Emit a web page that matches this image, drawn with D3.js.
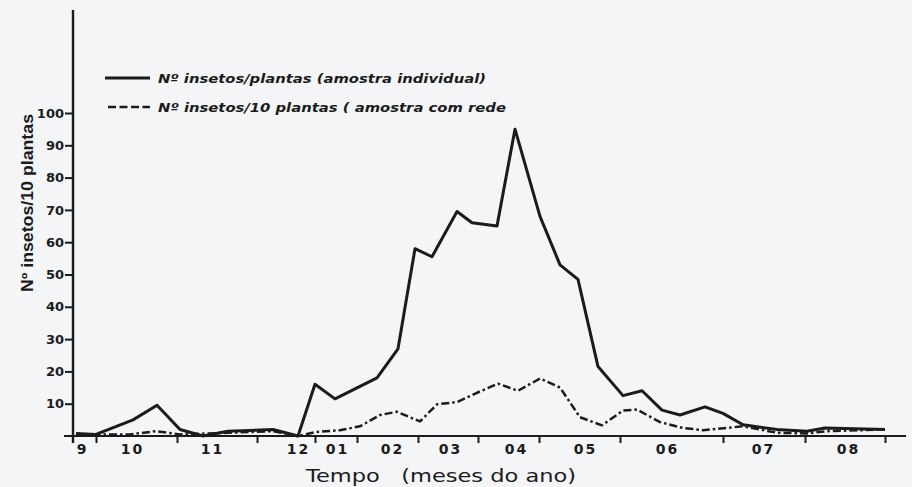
<!DOCTYPE html>
<html>
<head>
<meta charset="utf-8">
<script src="https://cdn.jsdelivr.net/npm/d3@7"></script>
<style>
  html, body { margin: 0; padding: 0; background: #f3f5f7; }
  svg { display: block; }
</style>
</head>
<body>
<svg id="chart" width="912" height="487"></svg>
<script>
// ---- data (x = position along the time axis, in axis units) ----
const monthTicks = [2.0, 10.1, 18.1, 23.9, 28.1, 34.2, 40.2, 46.3, 54.4, 64.7, 72.9, 80.9];
const monthLabels = ["9", "10", "11", "12", "01", "02", "03", "04", "05", "06", "07", "08"];
const monthLabelPos = [0.6, 5.6, 13.6, 22.2, 26.1, 31.6, 37.4, 44.0, 50.9, 59.1, 68.7, 77.2];
const yTicks = [10, 20, 30, 40, 50, 60, 70, 80, 90, 100];

const individualX = [0.0, 2.0, 5.7, 8.1, 10.4, 12.7, 15.2, 19.7, 22.2, 23.9, 25.9, 30.1, 32.2, 33.9, 35.6, 38.1, 39.6, 42.1, 43.9, 46.4, 48.4, 50.2, 52.2, 54.7, 56.6, 58.6, 60.4, 62.9, 64.7, 66.7, 70.1, 73.1, 74.9, 80.9];
const individualY = [0.8, 0.5, 5, 9.5, 2, 0, 1.5, 2, 0, 16, 11.5, 18, 27, 58, 55.5, 69.5, 66, 65, 95, 68, 53, 48.5, 21.5, 12.5, 14, 8, 6.5, 9, 7, 3.5, 2, 1.5, 2.5, 2];

const redeX = [0.0, 5.4, 8.0, 10.4, 15.2, 19.7, 22.2, 23.9, 26.4, 28.4, 30.4, 32.1, 34.4, 36.1, 38.1, 40.4, 42.2, 44.2, 46.4, 48.4, 50.4, 52.6, 54.7, 56.1, 58.4, 60.7, 62.7, 66.7, 70.1, 73.1, 75.1, 80.9];
const redeY = [0.5, 0.5, 1.5, 0.5, 1, 1.5, 0, 1.2, 1.8, 3.0, 6.5, 7.5, 4.5, 9.8, 10.5, 13.8, 16.2, 14, 17.8, 15, 5.8, 3.3, 7.9, 8.2, 4.3, 2.5, 1.8, 3, 1, 0.8, 1.5, 2];

const legendLabels = ["Nº insetos/plantas (amostra individual)", "Nº insetos/10 plantas ( amostra com rede"];
const xTitle = "Tempo   (meses do ano)";
const yTitle = "Nº insetos/10 plantas";

// ---- drawing ----
const svg = d3.select("#chart");
const ink = "#1b1b1b";

const x = d3.scaleLinear().domain([0, 83]).range([76, 906]);
const y = d3.scaleLinear().domain([0, 100]).range([436, 113]);

// axis lines
svg.append("line").attr("x1", 73).attr("x2", 73).attr("y1", 10).attr("y2", 443)
  .attr("stroke", ink).attr("stroke-width", 2.4);
svg.append("line").attr("x1", 64).attr("x2", 906).attr("y1", y(0)).attr("y2", y(0))
  .attr("stroke", ink).attr("stroke-width", 2.2);

// y axis ticks
const yAxis = d3.axisLeft(y).tickValues(yTicks).tickSize(8).tickPadding(1);
const gy = svg.append("g").attr("transform", "translate(73,0)").call(yAxis);
gy.select(".domain").remove();
gy.selectAll(".tick line").attr("stroke", ink).attr("stroke-width", 2);
gy.selectAll(".tick text").attr("fill", ink)
  .style("font-family", "DejaVu Sans").style("font-weight", "bold").style("font-size", "13px");

// x axis month boundary ticks
const xTickAxis = d3.axisBottom(x).tickValues(monthTicks).tickSize(7).tickFormat("");
const gx = svg.append("g").attr("transform", `translate(0,${y(0)})`).call(xTickAxis);
gx.select(".domain").remove();
gx.selectAll(".tick line").attr("stroke", ink).attr("stroke-width", 2);

// x axis month labels
const xLabelAxis = d3.axisBottom(x).tickValues(monthLabelPos).tickSize(0).tickPadding(8)
  .tickFormat((d, i) => monthLabels[i]);
const gxl = svg.append("g").attr("transform", `translate(0,${y(0)})`).call(xLabelAxis);
gxl.select(".domain").remove();
gxl.selectAll(".tick text").attr("fill", ink)
  .style("font-family", "DejaVu Sans").style("font-weight", "bold").style("font-size", "14px")
  .style("letter-spacing", "2px");

// lines
const line = d3.line().x(d => x(d[0])).y(d => y(d[1]));
const individual = individualX.map((v, i) => [v, individualY[i]]);
const rede = redeX.map((v, i) => [v, redeY[i]]);

svg.append("path").datum(rede).attr("d", line)
  .attr("fill", "none").attr("stroke", ink).attr("stroke-width", 2.5)
  .attr("stroke-dasharray", "8,3,2.5,3").attr("stroke-linejoin", "round");
svg.append("path").datum(individual).attr("d", line)
  .attr("fill", "none").attr("stroke", ink).attr("stroke-width", 3)
  .attr("stroke-linejoin", "round");

// legend
const legend = svg.append("g");
legend.append("line").attr("x1", 105).attr("x2", 150).attr("y1", 78).attr("y2", 78)
  .attr("stroke", ink).attr("stroke-width", 3);
legend.append("line").attr("x1", 108).attr("x2", 150).attr("y1", 107).attr("y2", 107)
  .attr("stroke", ink).attr("stroke-width", 2.6).attr("stroke-dasharray", "8,3.5");
legend.append("text").attr("x", 158).attr("y", 83).text(legendLabels[0])
  .attr("textLength", 328).attr("lengthAdjust", "spacingAndGlyphs")
  .attr("fill", ink).style("font-family", "DejaVu Sans").style("font-style", "oblique")
  .style("font-weight", "bold").style("font-size", "13px");
legend.append("text").attr("x", 158).attr("y", 112).text(legendLabels[1])
  .attr("textLength", 348).attr("lengthAdjust", "spacingAndGlyphs")
  .attr("fill", ink).style("font-family", "DejaVu Sans").style("font-style", "oblique")
  .style("font-weight", "bold").style("font-size", "13px");

// axis titles
svg.append("text").attr("x", 306).attr("y", 482).text(xTitle)
  .attr("textLength", 270).attr("lengthAdjust", "spacingAndGlyphs")
  .attr("fill", ink).style("font-family", "DejaVu Sans").style("font-size", "17px")
  .style("white-space", "pre").attr("xml:space", "preserve");
svg.append("text").attr("transform", "translate(33,203) rotate(-90)")
  .attr("text-anchor", "middle").text(yTitle)
  .attr("textLength", 178).attr("lengthAdjust", "spacingAndGlyphs")
  .attr("fill", ink).style("font-family", "Liberation Sans Narrow, Liberation Sans")
  .style("font-weight", "bold").style("font-size", "16px");
</script>
</body>
</html>
